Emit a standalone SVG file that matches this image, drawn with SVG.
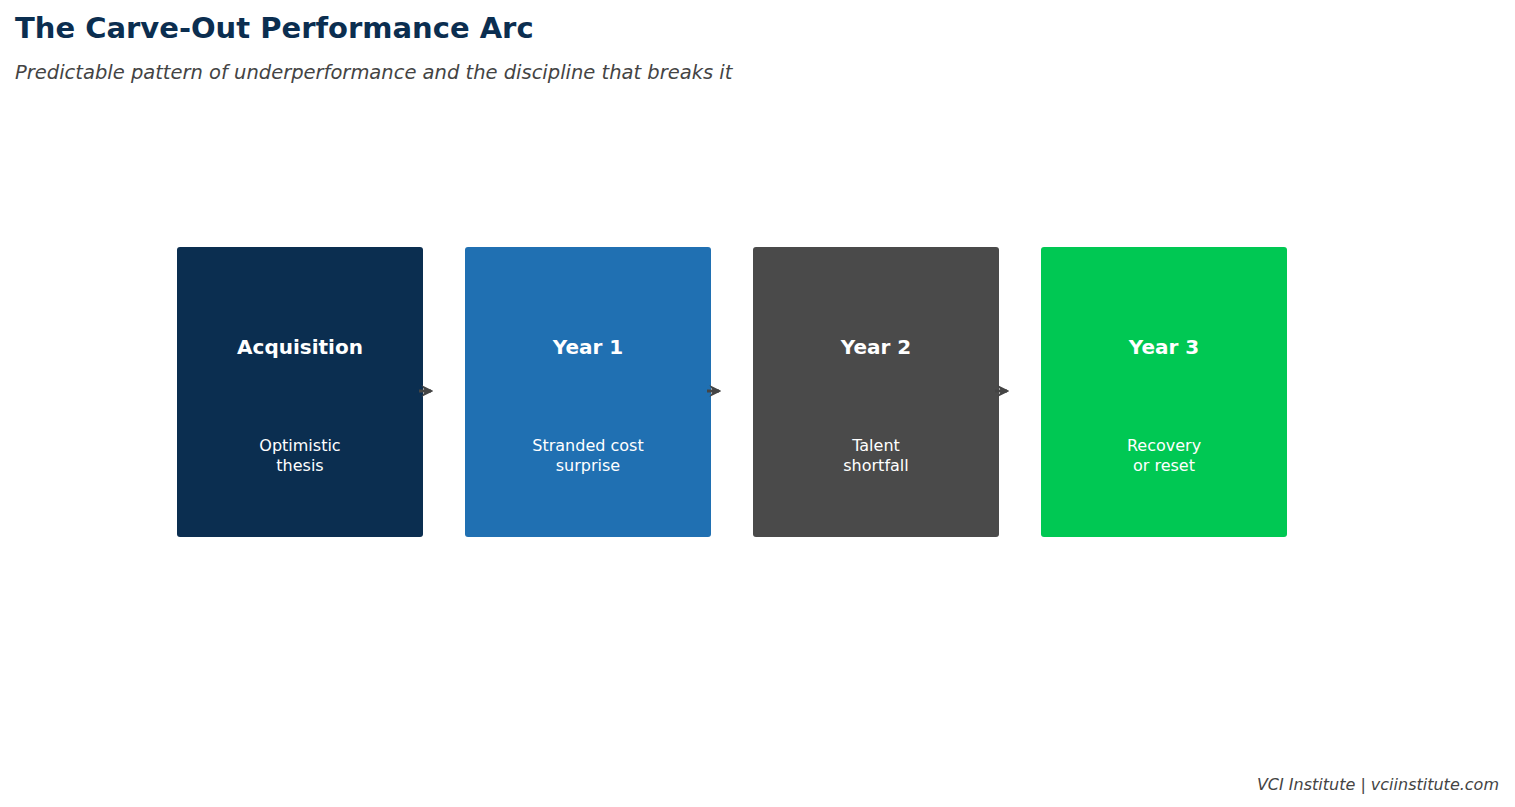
<svg xmlns="http://www.w3.org/2000/svg" width="1515" height="807" viewBox="0 0 1515 807">
<style>
text{font-family:"DejaVu Sans",sans-serif}
.h{font-size:20px;font-weight:bold;fill:#fff;text-anchor:middle}
.s{font-size:16px;fill:#fff;text-anchor:middle}
.c{stroke:#444;stroke-width:3;fill:none}
</style>
<defs><marker id="a" viewBox="0 0 10 10" refX="8" refY="5" markerWidth="4" markerHeight="4" orient="auto"><path d="M0,0L10,5L0,10L3,5z" fill="#444"/></marker></defs>
<rect width="1515" height="807" fill="#fff"/>
<text x="15" y="38" font-size="29" font-weight="bold" fill="#0b2e50">The Carve-Out Performance Arc</text>
<text x="15" y="79" font-size="19.5" font-style="italic" fill="#444">Predictable pattern of underperformance and the discipline that breaks it</text>
<g id="n1"><rect x="177" y="247" width="246" height="290" rx="3" fill="#0b2e50"/><text class="h" x="300" y="354">Acquisition</text><text class="s" x="300" y="451">Optimistic</text><text class="s" x="300" y="471">thesis</text></g>
<g id="n2"><rect x="465" y="247" width="246" height="290" rx="3" fill="#2070b2"/><text class="h" x="588" y="354">Year 1</text><text class="s" x="588" y="451">Stranded cost</text><text class="s" x="588" y="471">surprise</text></g>
<g id="n3"><rect x="753" y="247" width="246" height="290" rx="3" fill="#4a4a4a"/><text class="h" x="876" y="354">Year 2</text><text class="s" x="876" y="451">Talent</text><text class="s" x="876" y="471">shortfall</text></g>
<g id="n4"><rect x="1041" y="247" width="246" height="290" rx="3" fill="#00c853"/><text class="h" x="1164" y="354">Year 3</text><text class="s" x="1164" y="451">Recovery</text><text class="s" x="1164" y="471">or reset</text></g>
<g id="connectors">
<line class="c" x1="419" y1="391" x2="431" y2="391" marker-end="url(#a)"/>
<line class="c" x1="707" y1="391" x2="719" y2="391" marker-end="url(#a)"/>
<line class="c" x1="995" y1="391" x2="1007" y2="391" marker-end="url(#a)"/>
</g>
<text x="1499" y="790" font-size="16" font-style="italic" fill="#444" text-anchor="end">VCI Institute  |  vciinstitute.com</text>
</svg>
